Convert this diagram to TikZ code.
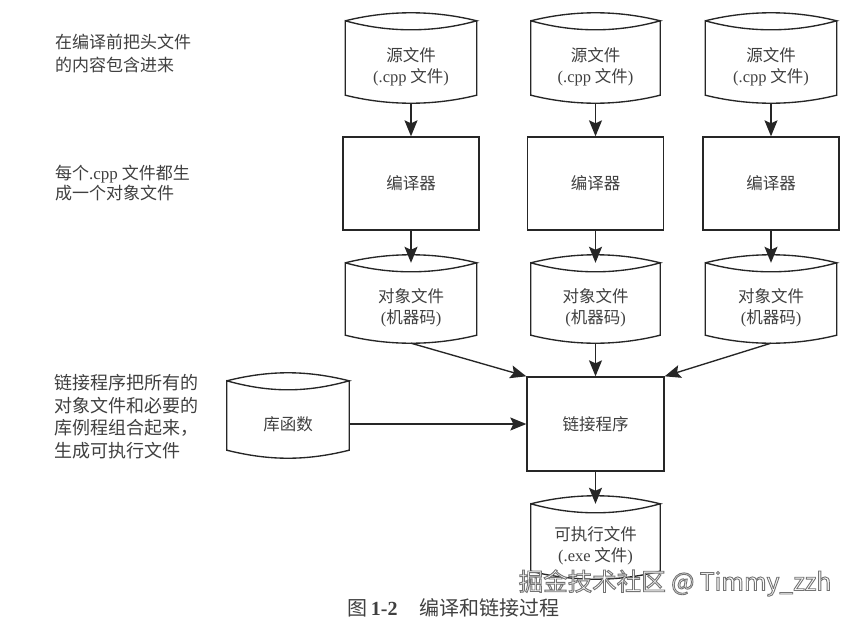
\documentclass[tikz,border=0pt]{standalone}
\usepackage{fontspec}
\setmainfont{Noto Sans CJK SC}
\newfontfamily\lat{Liberation Serif}
\usetikzlibrary{calc,arrows.meta}

\tikzset{
  line/.style={draw=black!85, line width=1.35pt},
  tipstyle/.tip={Stealth[length=16pt,width=13pt,inset=3pt]},
  arr/.style={line, -tipstyle},
  lbl/.style={text=black!75, font=\fontsize{16.5}{21}\selectfont, align=center},
  box/.style={lbl, line, rectangle, minimum width=136pt, minimum height=93pt, inner sep=0pt},
  disk/.style={lbl, rectangle, inner sep=0pt},
  note/.style={anchor=west, inner sep=0pt, align=left, text=black!75},
}

\newcommand\cylpath[1]{%
  \draw[line] ($(#1.north west)+(0,-9)$)
      .. controls +(43,-10.7) and +(-43,-10.7) .. ($(#1.north east)+(0,-9)$)
      .. controls +(-43,12) and +(43,12) .. ($(#1.north west)+(0,-9)$)
      -- ($(#1.south west)+(0,-8)$)
      .. controls +(43,10.7) and +(-43,10.7) .. ($(#1.south east)+(0,-8)$)
      -- ($(#1.north east)+(0,-9)$);}

\newcommand\outlinetext[1]{\special{pdf:literal 2 Tr 0.45 G 0.9 w}#1\special{pdf:literal 0 Tr}}

\begin{document}
\begin{tikzpicture}[x=1pt,y=-1pt]
\useasboundingbox[fill=white] (0,0) rectangle (856,621);

% source files
\node[disk, minimum width=131pt, minimum height=73pt] (s1) at (411,66.5) {源文件\\{\lat (.cpp} 文件{\lat )}};
\node[disk, minimum width=129pt, minimum height=73pt] (s2) at (595.5,66.5) {源文件\\{\lat (.cpp} 文件{\lat )}};
\node[disk, minimum width=131pt, minimum height=73pt] (s3) at (771,66.5) {源文件\\{\lat (.cpp} 文件{\lat )}};
\cylpath{s1}\cylpath{s2}\cylpath{s3}

% compilers
\node[box] (c1) at (411,183.5) {编译器};
\node[box] (c2) at (595.5,183.5) {编译器};
\node[box] (c3) at (771,183.5) {编译器};

% object files
\node[disk, minimum width=131pt, minimum height=71pt] (o1) at (411,307.5) {对象文件\\{\lat (}机器码{\lat )}};
\node[disk, minimum width=129pt, minimum height=71pt] (o2) at (595.5,307.5) {对象文件\\{\lat (}机器码{\lat )}};
\node[disk, minimum width=131pt, minimum height=71pt] (o3) at (771,307.5) {对象文件\\{\lat (}机器码{\lat )}};
\cylpath{o1}\cylpath{o2}\cylpath{o3}

% linker
\node[box, minimum width=137pt, minimum height=94pt] (link) at (595.5,424) {链接程序};

% library
\node[disk, minimum width=122pt, minimum height=68pt] (lib) at (288,424) {库函数};
\cylpath{lib}

% executable
\node[disk, minimum width=129pt, minimum height=66pt] (exe) at (595.5,546) {可执行文件\\{\lat (.exe} 文件{\lat )}};
\cylpath{exe}

% arrows
\foreach \i in {1,2,3}{
  \draw[arr] (s\i.south) -- (c\i.north);
  \draw[arr] (c\i.south) -- ($(o\i.north)+(0,-9)$);
}
\draw[arr] (o1.south) -- (link.north west);
\draw[arr] (o2.south) -- (link.north);
\draw[arr] (o3.south) -- (link.north east);
\draw[arr] (lib.east) -- (lib.east -| link.west);
\draw[arr] (link.south) -- ($(exe.north)+(0,-9)$);

% notes
\node[note, font=\fontsize{17}{23}\selectfont] (n1) at (55,53.5) {在编译前把头文件\\的内容包含进来};
\node[note, font=\fontsize{17}{20.5}\selectfont] (n2) at (55,183) {每个{\lat .cpp} 文件都生\\成一个对象文件};
\node[note, font=\fontsize{18}{22.5}\selectfont] (n3) at (54,416.5) {链接程序把所有的\\对象文件和必要的\\库例程组合起来，\\生成可执行文件};

% caption
\node[inner sep=0pt, text=black!75, font=\fontsize{20}{24}\selectfont] (cap) at (453.5,608) {图\,{\lat\bfseries 1-2}\hspace{1.1em}编译和链接过程};

% watermark
\node[inner sep=0pt, text=white, font=\fontsize{24.5}{28}\selectfont] (wm) at (675,583) {\outlinetext{掘金技术社区 @ Timmy\_zzh}};
\end{tikzpicture}
\end{document}
